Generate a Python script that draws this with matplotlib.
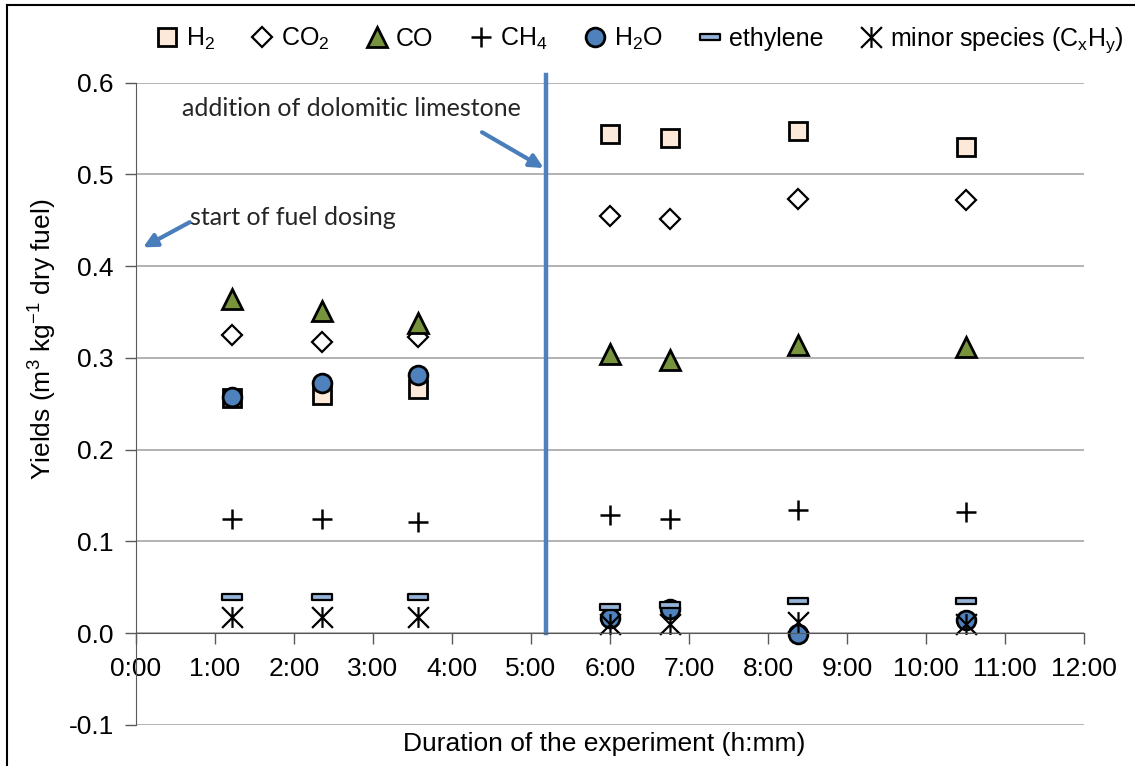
import matplotlib
matplotlib.use("Agg")
import matplotlib.pyplot as plt
from matplotlib.path import Path
from matplotlib.lines import Line2D

plt.rcParams['font.family'] = ['Liberation Sans', 'DejaVu Sans']
plt.rcParams['mathtext.fontset'] = 'custom'
plt.rcParams['mathtext.rm'] = 'Liberation Sans'
plt.rcParams['mathtext.it'] = 'Liberation Sans'
plt.rcParams['mathtext.default'] = 'regular'

# duration of the experiment in hours
time = [1.22, 2.36, 3.57, 6.00, 6.76, 8.38, 10.51]
h2 = [0.256, 0.260, 0.266, 0.544, 0.540, 0.547, 0.530]
co2 = [0.325, 0.317, 0.323, 0.455, 0.452, 0.473, 0.472]
co = [0.364, 0.351, 0.338, 0.304, 0.298, 0.314, 0.312]
ch4 = [0.124, 0.124, 0.121, 0.129, 0.125, 0.134, 0.132]
h2o = [0.258, 0.273, 0.281, 0.017, 0.026, -0.001, 0.014]
ethylene = [0.040, 0.040, 0.039, 0.029, 0.031, 0.035, 0.035]
minor = [0.018, 0.018, 0.018, 0.010, 0.010, 0.012, 0.010]

dolomite_time = 5.19
hour_ticks = list(range(0, 13))
hour_labels = ['%d:00' % h for h in hour_ticks]

# custom markers (Excel dash and star)
dash = Path([(-1, -0.26), (1, -0.26), (1, 0.26), (-1, 0.26), (-1, -0.26)],
            [Path.MOVETO, Path.LINETO, Path.LINETO, Path.LINETO, Path.CLOSEPOLY])
star = Path([(-1, -1), (1, 1), (-1, 1), (1, -1), (0, -1), (0, 1)],
            [Path.MOVETO, Path.LINETO, Path.MOVETO, Path.LINETO, Path.MOVETO, Path.LINETO])

FS = 19

fig = plt.figure(figsize=(11.35, 7.66), dpi=100)
ax = fig.add_axes([136/1135, 1-725/766, 948/1135, (725-82.7)/766])

ax.plot(time, h2, ls='none', marker='s', ms=13.5, mfc='#FDE9D9', mec='black', mew=2, label='H$_2$')
ax.plot(time, co2, ls='none', marker='D', ms=10, mfc='white', mec='black', mew=1.6, label='CO$_2$')
ax.plot(time, co, ls='none', marker='^', ms=14, mfc='#77933C', mec='black', mew=2, label='CO')
ax.plot(time, ch4, ls='none', marker='+', ms=15, mec='black', mew=1.8, label='CH$_4$')
ax.plot(time, h2o, ls='none', marker='o', ms=13.5, mfc='#4F81BD', mec='black', mew=2, label='H$_2$O')
ax.plot(time, ethylene, ls='none', marker=dash, ms=14, mfc='#95B3D7', mec='black', mew=1.6, label='ethylene')
ax.plot(time, minor, ls='none', marker=star, ms=15, mfc='none', mec='black', mew=1.6,
        label='minor species (C$_x$H$_y$)')

ax.plot([dolomite_time, dolomite_time], [0, 0.608], color='#4F81BD', lw=3.2, clip_on=False, zorder=1)

ax.set_xlim(0, 12)
ax.set_ylim(-0.1, 0.6)
ax.set_xticks(hour_ticks)
ax.set_xticklabels(hour_labels)
ax.set_yticks([-0.1, 0.0, 0.1, 0.2, 0.3, 0.4, 0.5, 0.6])
ax.set_yticklabels(['%.1f' % v for v in ax.get_yticks()])
ax.spines['bottom'].set_position(('data', 0))
ax.spines['top'].set_visible(False)
ax.spines['right'].set_visible(False)
ax.spines['left'].set_color('#595959')
ax.spines['bottom'].set_color('#595959')
ax.tick_params(axis='both', colors='#595959', labelcolor='black', labelsize=FS, direction='out', length=8, width=1)
ax.tick_params(axis='y', pad=8)
ax.tick_params(axis='x', pad=9)
ax.grid(axis='y', color='#A6A6A6', lw=1.2)
ax.set_axisbelow(True)

ax.set_xlabel('Duration of the experiment (h:mm)', fontsize=FS)
ax.xaxis.set_label_coords(0.494, -0.011)
ax.set_ylabel('Yields (m$^3$ kg$^{-1}$ dry fuel)', fontsize=FS)
ax.yaxis.set_label_coords(-0.081, 0.60)

arrow = dict(arrowstyle='-|>,head_length=0.8,head_width=0.4', color='#4A7EBB', lw=3, shrinkA=0, shrinkB=0)
ax.annotate('', xy=(5.16, 0.507), xytext=(4.38, 0.546), arrowprops=arrow)
ax.text(0.58, 0.572, 'addition of dolomitic limestone', fontsize=18, family='Lato', color='#262626', va='center')
ax.annotate('', xy=(0.09, 0.4205), xytext=(0.68, 0.448), arrowprops=arrow, annotation_clip=False)
ax.text(0.68, 0.453, 'start of fuel dosing', fontsize=18, family='Lato', color='#262626', va='center')

fig.legend(loc='center', bbox_to_anchor=(0.563, 1-40/766), ncol=7, frameon=False, fontsize=18,
           handlelength=1.0, handletextpad=0.25, columnspacing=1.4, borderpad=0)

# outer chart frame
fx, fy = 7/1135, 1-5/766
fig.add_artist(Line2D([fx, fx], [0, fy], color='black', lw=1.5))
fig.add_artist(Line2D([fx, 1], [fy, fy], color='black', lw=1.5))

fig.savefig('out.png', dpi=100)
